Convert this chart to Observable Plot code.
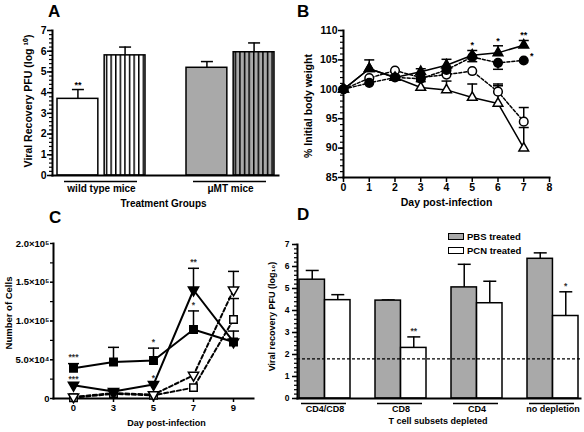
<!DOCTYPE html>
<html><head><meta charset="utf-8">
<script src="https://cdn.jsdelivr.net/npm/d3@7"></script>
<script src="https://cdn.jsdelivr.net/npm/@observablehq/plot@0.6"></script>
<style>
body{margin:0;background:#fff;}
#fig{position:relative;width:584px;height:432px;overflow:hidden;background:#fff;font-family:'Liberation Sans',Arial,sans-serif;color:#000;}
.panel{position:absolute;}
.letter{position:absolute;font-weight:bold;font-size:17px;line-height:17px;}
.leg{position:absolute;font-weight:bold;font-size:9.5px;line-height:10px;white-space:nowrap;}
.sw{position:absolute;width:16px;height:7px;border:1px solid #000;box-sizing:border-box;}
</style></head>
<body><div id="fig">
<svg width="0" height="0" style="position:absolute"><defs>
<pattern id="stripeW" patternUnits="userSpaceOnUse" width="4.6" height="8"><rect width="4.6" height="8" fill="#fff"/><rect width="1.5" height="8" fill="#000"/></pattern>
<pattern id="stripeG" patternUnits="userSpaceOnUse" width="4.6" height="8"><rect width="4.6" height="8" fill="#a9a9a9"/><rect width="1.5" height="8" fill="#000"/></pattern>
</defs></svg>
<div class="letter" style="left:48px;top:3px">A</div>
<div class="letter" style="left:297px;top:3px">B</div>
<div class="letter" style="left:49px;top:209px">C</div>
<div class="letter" style="left:297px;top:206px">D</div>
</div>
<script>
// ---------------- DATA ----------------
// Panel A
const aGroups = ["wild type mice", "μMT mice"];
const aLeftValues = [3.7, 5.2];
const aLeftErrors = [0.45, 0.3];
const aRightValues = [5.8, 5.95];
const aRightErrors = [0.4, 0.45];
const aLeftStars = ["**", ""];
const aYTicks = [0, 1, 2, 3, 4, 5, 6, 7];

// Panel B
const bDays = [0, 1, 2, 3, 4, 5, 6, 7];
const bFilledTri = [100, 103.5, 102, 103, 104.1, 105.8, 106.2, 107.5];
const bFilledTriErr = [0.3, 1.5, 0.4, 0.5, 1.0, 0.8, 1.2, 0.8];
const bFilledTriStars = ["", "", "", "", "", "*", "*", "**"];
const bFilledCirc = [100, 101.1, 102, 101.8, 103.3, 105.5, 104.5, 104.9];
const bFilledCircErr = [0, 0, 0, -0.5, -0.7, -0.8, -1.1, 0];
const bFilledCircStars = ["", "", "", "", "", "", "", "*"];
const bOpenCirc = [100, 101.9, 103.2, 102, 102.5, 103.1, 99.6, 94.5];
const bOpenCircErr = [0, 0, 0, 0, 0, 0, 1.3, 2.4];
const bOpenTri = [100, 103.5, 102, 100.3, 99.9, 98.6, 97.6, 90];
const bOpenTriErr = [0, 0, 0, 0, 1.5, 2.3, 3.0, 3.5];
const bXTicks = [0, 1, 2, 3, 4, 5, 6, 7, 8];
const bYTicks = [85, 90, 95, 100, 105, 110];

// Panel C
const cDays = [0, 3, 5, 7, 9];
const cSquare = [39000, 47000, 49000, 89000, 73000];
const cSquareErr = [6000, 19000, 16000, 24000, 14000];
const cSquareStars = ["***", "", "*", "*", ""];
const cTri = [17000, 9000, 18000, 140000, 73000];
const cTriErr = [0, 0, 0, 28000, 0];
const cTriStars = ["***", "", "*", "**", ""];
const cOpenTri = [2000, 7000, 5000, 30000, 140000];
const cOpenTriErr = [0, 0, 0, 0, 24000];
const cOpenSq = [1000, 6000, 4000, 14000, 102000];
const cOpenSqErr = [0, 0, 0, 0, 27000];
const cYTicks = [0, 50000, 100000, 150000, 200000];
const cYTickLabels = ["0", "5.0×10⁴", "1.0×10⁵", "1.5×10⁵", "2.0×10⁵"];

// Panel D
const dGroups = ["CD4/CD8", "CD8", "CD4", "no depletion"];
const dPBS = [5.4, 4.45, 5.05, 6.35];
const dPBSErr = [0.42, 0.03, 1.05, 0.27];
const dPCN = [4.47, 2.3, 4.33, 3.75];
const dPCNErr = [0.25, 0.5, 1.0, 1.1];
const dPCNStars = ["", "**", "", "*"];
const dLimit = 1.8;
const dYTicks = [0, 1, 2, 3, 4, 5, 6, 7];
const dLegend = ["PBS treated", "PCN treated"];

// ---------------- STYLES ----------------
const FONT = "'Liberation Sans', Arial, sans-serif";
const GRAY = "#a9a9a9";
const svgStyle = {fontFamily: FONT, fontWeight: "bold", background: "transparent", overflow: "visible", color: "#000"};
const capSymbol = {draw(ctx, size) { const w = Math.sqrt(size / Math.PI); ctx.moveTo(-w, 0); ctx.lineTo(w, 0); }};
const fig = document.getElementById("fig");
function place(plot, left, top) {
  const div = document.createElement("div");
  div.className = "panel";
  div.style.left = left + "px";
  div.style.top = top + "px";
  div.appendChild(plot);
  fig.appendChild(div);
}
const range = (a, b, s) => d3.range(a, b + s / 2, s);
const yLabel = (t, dx, dy, fs) => Plot.text([t], {text: d => d, frameAnchor: "left", textAnchor: "middle", rotate: -90, dx, dy, fontSize: fs, fontWeight: "bold"});
const xLabel = (t, dx, dy, fs) => Plot.text([t], {text: d => d, frameAnchor: "bottom", textAnchor: "middle", dx, dy, fontSize: fs, fontWeight: "bold"});

// ---------------- PANEL A ----------------
{
  const L = {w: 292, h: 216, ml: 52, mr: 14, mt: 30, mb: 41};
  const pi = 0.32, po = 0.03;
  const bw = d3.scaleBand(aGroups, [L.ml, L.w - L.mr]).paddingInner(pi).paddingOuter(po).bandwidth();
  const barW = (bw - 6) / 2;
  const off = (bw - barW) / 2;
  const leftFills = ["#fff", GRAY];
  const rightFills = ["url(#stripeW)", "url(#stripeG)"];
  const rows = aGroups.map((g, i) => ({
    group: g, left: aLeftValues[i], leftTop: aLeftValues[i] + aLeftErrors[i],
    right: aRightValues[i], rightTop: aRightValues[i] + aRightErrors[i], star: aLeftStars[i]
  }));
  const marks = [
    Plot.ruleX(rows, {x: "group", y1: "left", y2: "leftTop", dx: -off, strokeWidth: 1.5}),
    Plot.ruleX(rows, {x: "group", y1: "right", y2: "rightTop", dx: off, strokeWidth: 1.5}),
    Plot.dot(rows, {x: "group", y: "leftTop", dx: -off, symbol: capSymbol, r: 6, fill: "none", stroke: "#000", strokeWidth: 1.5}),
    Plot.dot(rows, {x: "group", y: "rightTop", dx: off, symbol: capSymbol, r: 6, fill: "none", stroke: "#000", strokeWidth: 1.5})
  ];
  rows.forEach((r, i) => {
    marks.push(Plot.barY([r], {x: "group", y: "left", fill: leftFills[i], stroke: "#000", strokeWidth: 1.5, insetRight: bw - barW}));
    marks.push(Plot.barY([r], {x: "group", y: "right", fill: rightFills[i], stroke: "#000", strokeWidth: 1.5, insetLeft: bw - barW}));
  });
  marks.push(
    Plot.text(rows, {x: "group", y: "leftTop", text: "star", dx: -off, dy: -4, fontSize: 9}),
    Plot.axisY(range(0, 7, 0.2), {tickSize: 3, tickFormat: () => "", label: null, strokeWidth: 1.2}),
    Plot.axisY(aYTicks, {tickSize: 5, tickPadding: 1, fontSize: 10.5, fontWeight: "bold", label: null, strokeWidth: 1.5}),
    Plot.frame({anchor: "left", strokeWidth: 2}),
    Plot.frame({anchor: "bottom", strokeWidth: 2}),
    Plot.tickY(rows, {x: "group", y: () => 0, dy: 6, insetLeft: 7, insetRight: 8, strokeWidth: 1.5}),
    Plot.text(aGroups, {x: d => d, text: d => d, frameAnchor: "bottom", dy: 16.5, fontSize: 10, fontWeight: "bold"}),
    xLabel("Treatment Groups", -2, 31, 10),
    yLabel("Viral Recovery PFU (log ¹⁰)", -24, -2, 10.5)
  );
  place(Plot.plot({
    width: L.w, height: L.h, marginLeft: L.ml, marginRight: L.mr, marginTop: L.mt, marginBottom: L.mb,
    style: svgStyle,
    x: {type: "band", domain: aGroups, paddingInner: pi, paddingOuter: po, axis: null},
    y: {domain: [0, 7], axis: null},
    marks
  }), 0, 0);
}

// ---------------- PANEL B ----------------
{
  const L = {w: 292, h: 216, ml: 51, mr: 35, mt: 30, mb: 39};
  const series = [
    {values: bOpenTri, errs: bOpenTriErr, stars: null, symbol: "triangle", fill: "#fff", dash: null, r: 3.6},
    {values: bOpenCirc, errs: bOpenCircErr, stars: null, symbol: "circle", fill: "#fff", dash: "3,2", r: 4.3},
    {values: bFilledCirc, errs: bFilledCircErr, stars: bFilledCircStars, symbol: "circle", fill: "#000", dash: "3,2", r: 4.3},
    {values: bFilledTri, errs: bFilledTriErr, stars: bFilledTriStars, symbol: "triangle", fill: "#000", dash: null, r: 3.6}
  ];
  const rowsOf = s => bDays.map((d, i) => ({day: d, v: s.values[i], err: s.errs[i], top: s.values[i] + s.errs[i], star: s.stars ? s.stars[i] : ""}));
  const marks = [
    Plot.axisY(range(85, 110, 1), {tickSize: 3, tickFormat: () => "", label: null, strokeWidth: 1.2}),
    Plot.axisY(bYTicks, {tickSize: 5, tickPadding: 1, fontSize: 10.5, fontWeight: "bold", label: null, strokeWidth: 1.5}),
    Plot.axisX(bXTicks, {tickSize: 5, tickPadding: 1, fontSize: 10.5, fontWeight: "bold", label: null, strokeWidth: 1.5}),
    Plot.frame({anchor: "left", strokeWidth: 2}),
    Plot.frame({anchor: "bottom", strokeWidth: 2})
  ];
  series.forEach(s => marks.push(Plot.line(rowsOf(s), {x: "day", y: "v", stroke: "#000", strokeWidth: 1.5, strokeDasharray: s.dash})));
  series.forEach(s => {
    const r = rowsOf(s).filter(d => d.err !== 0);
    marks.push(Plot.ruleX(r, {x: "day", y1: "v", y2: "top", strokeWidth: 1.5}));
    marks.push(Plot.dot(r, {x: "day", y: "top", symbol: capSymbol, r: 5, fill: "none", stroke: "#000", strokeWidth: 1.5}));
  });
  series.forEach(s => marks.push(Plot.dot(rowsOf(s), {x: "day", y: "v", symbol: s.symbol, r: s.r, fill: s.fill, stroke: "#000", strokeWidth: 1.5})));
  marks.push(
    Plot.text(rowsOf(series[3]), {x: "day", y: "top", text: "star", dy: -5, fontSize: 9}),
    Plot.text(rowsOf(series[2]), {x: "day", y: "v", text: "star", dx: 8, dy: -4, fontSize: 9}),
    xLabel("Day post-infection", 0, 28, 10.5),
    yLabel("% Initial body weight", -35, 2, 10.5)
  );
  place(Plot.plot({
    width: L.w, height: L.h, marginLeft: L.ml, marginRight: L.mr, marginTop: L.mt, marginBottom: L.mb,
    style: svgStyle,
    x: {domain: [0, 8], axis: null},
    y: {domain: [85, 110], axis: null},
    marks
  }), 292, 0);
}

// ---------------- PANEL C ----------------
{
  const L = {w: 292, h: 216, ml: 53, mr: 39, mt: 27, mb: 34};
  const series = [
    {values: cOpenSq, errs: cOpenSqErr, stars: null, symbol: "square", fill: "#fff", dash: "4,2.5", rotate: 0, r: 4.2},
    {values: cOpenTri, errs: cOpenTriErr, stars: null, symbol: "triangle", fill: "#fff", dash: "4,2.5", rotate: 180, r: 3.8},
    {values: cTri, errs: cTriErr, stars: cTriStars, symbol: "triangle", fill: "#000", dash: null, rotate: 180, r: 3.8},
    {values: cSquare, errs: cSquareErr, stars: cSquareStars, symbol: "square", fill: "#000", dash: null, rotate: 0, r: 4.2}
  ];
  const rowsOf = s => cDays.map((d, i) => ({day: d, v: s.values[i], err: s.errs[i], top: s.values[i] + s.errs[i], star: s.stars ? s.stars[i] : ""}));
  const marks = [
    Plot.axisY(range(0, 200000, 25000), {tickSize: 3, tickFormat: () => "", label: null, strokeWidth: 1.2}),
    Plot.axisY(cYTicks, {tickSize: 3, tickPadding: 1, tickFormat: d => cYTickLabels[cYTicks.indexOf(d)], fontSize: 9.5, fontWeight: "bold", label: null, strokeWidth: 1.2}),
    Plot.axisX(cDays, {tickSize: 4, tickPadding: 2, fontSize: 9.5, fontWeight: "bold", label: null, strokeWidth: 1.5}),
    Plot.frame({anchor: "left", strokeWidth: 2}),
    Plot.frame({anchor: "bottom", strokeWidth: 2})
  ];
  series.forEach(s => marks.push(Plot.line(rowsOf(s), {x: "day", y: "v", stroke: "#000", strokeWidth: 2, strokeDasharray: s.dash})));
  series.forEach(s => {
    const r = rowsOf(s).filter(d => d.err !== 0);
    marks.push(Plot.ruleX(r, {x: "day", y1: "v", y2: "top", strokeWidth: 1.5}));
    marks.push(Plot.dot(r, {x: "day", y: "top", symbol: capSymbol, r: 5.5, fill: "none", stroke: "#000", strokeWidth: 1.5}));
  });
  series.forEach(s => marks.push(Plot.dot(rowsOf(s), {x: "day", y: "v", symbol: s.symbol, rotate: s.rotate, r: s.r, fill: s.fill, stroke: "#000", strokeWidth: 1.5})));
  series.forEach(s => { if (s.stars) marks.push(Plot.text(rowsOf(s), {x: "day", y: d => Math.max(d.v, d.top), text: "star", dy: -6, fontSize: 8.5, fill: "#333"})); });
  marks.push(
    xLabel("Day post-infection", 13, 27, 9),
    yLabel("Number of Cells", -44.5, -8, 9.5)
  );
  place(Plot.plot({
    width: L.w, height: L.h, marginLeft: L.ml, marginRight: L.mr, marginTop: L.mt, marginBottom: L.mb,
    style: svgStyle,
    x: {type: "point", domain: cDays, padding: 0.5, axis: null},
    y: {domain: [0, 200000], axis: null},
    marks
  }), 0, 216);
}

// ---------------- PANEL D ----------------
{
  const L = {w: 324, h: 216, ml: 37, mr: 4, mt: 28, mb: 34};
  const pi = 0.33, po = 0.02;
  const bw = d3.scaleBand(dGroups, [L.ml, L.w - L.mr]).paddingInner(pi).paddingOuter(po).bandwidth();
  const half = bw / 2;
  const off = bw / 4;
  const rows = dGroups.map((g, i) => ({group: g, pbs: dPBS[i], pbsTop: dPBS[i] + dPBSErr[i], pcn: dPCN[i], pcnTop: dPCN[i] + dPCNErr[i], star: dPCNStars[i]}));
  const marks = [
    Plot.ruleX(rows, {x: "group", y1: "pbs", y2: "pbsTop", dx: -off, strokeWidth: 1.5}),
    Plot.ruleX(rows, {x: "group", y1: "pcn", y2: "pcnTop", dx: off, strokeWidth: 1.5}),
    Plot.dot(rows, {x: "group", y: "pbsTop", dx: -off, symbol: capSymbol, r: 6.5, fill: "none", stroke: "#000", strokeWidth: 1.5}),
    Plot.dot(rows, {x: "group", y: "pcnTop", dx: off, symbol: capSymbol, r: 6.5, fill: "none", stroke: "#000", strokeWidth: 1.5}),
    Plot.barY(rows, {x: "group", y: "pbs", fill: GRAY, stroke: "#000", strokeWidth: 1.5, insetRight: half}),
    Plot.barY(rows, {x: "group", y: "pcn", fill: "#fff", stroke: "#000", strokeWidth: 1.5, insetLeft: half}),
    Plot.ruleY([dLimit], {strokeDasharray: "3,2", strokeWidth: 1.2}),
    Plot.text(rows, {x: "group", y: "pcnTop", text: "star", dx: off, dy: -6, fontSize: 8.5, fill: "#333"}),
    Plot.axisY(range(0, 7, 0.2), {tickSize: 3, tickFormat: () => "", label: null, strokeWidth: 1.2}),
    Plot.axisY(dYTicks, {tickSize: 5, tickPadding: 3, fontSize: 8.5, fontWeight: "bold", label: null, strokeWidth: 1.5}),
    Plot.frame({anchor: "left", strokeWidth: 2}),
    Plot.frame({anchor: "bottom", strokeWidth: 2}),
    Plot.tickY(rows, {x: "group", y: () => 0, dy: 5, insetLeft: 2, insetRight: 4, strokeWidth: 1.5}),
    Plot.text(dGroups, {x: d => d, text: d => d, frameAnchor: "bottom", dy: 13.5, fontSize: 9, fontWeight: "bold"}),
    xLabel("T cell subsets depleted", -1, 25, 9),
    yLabel("Viral recovery PFU (log₁₀)", -25, -5, 9)
  ];
  place(Plot.plot({
    width: L.w, height: L.h, marginLeft: L.ml, marginRight: L.mr, marginTop: L.mt, marginBottom: L.mb,
    style: svgStyle,
    x: {type: "band", domain: dGroups, paddingInner: pi, paddingOuter: po, axis: null},
    y: {domain: [0, 7], axis: null},
    marks
  }), 260, 216);

  // legend
  const legFills = [GRAY, "#fff"];
  dLegend.forEach((t, i) => {
    const sw = document.createElement("div");
    sw.className = "sw";
    sw.style.left = "448px"; sw.style.top = (233 + i * 13.5) + "px"; sw.style.background = legFills[i];
    fig.appendChild(sw);
    const lab = document.createElement("div");
    lab.className = "leg";
    lab.style.left = "467px"; lab.style.top = (232 + i * 13.5) + "px";
    lab.textContent = t;
    fig.appendChild(lab);
  });
}
</script>
</body></html>
